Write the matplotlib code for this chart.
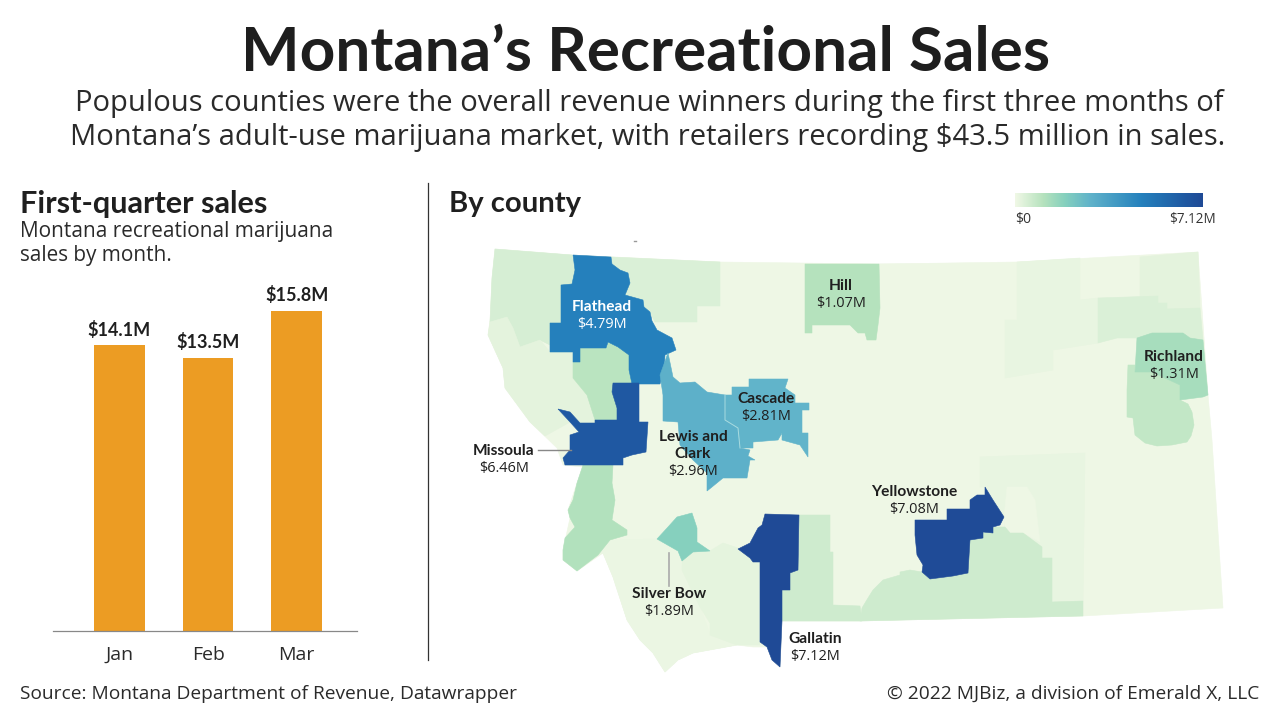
import matplotlib
matplotlib.use("Agg")
import matplotlib.pyplot as plt
from matplotlib.colors import LinearSegmentedColormap, Normalize
from matplotlib.patches import Polygon
import numpy as np

BODY = ['Open Sans', 'DejaVu Sans']
BOLD = ['Lato', 'DejaVu Sans']
plt.rcParams['font.family'] = BODY
W, H = 1280, 720
INK = '#1f1f1f'

# ---- chart data ----
months = ['Jan', 'Feb', 'Mar']
month_sales = [14.1, 13.5, 15.8]
month_labels = ['$14.1M', '$13.5M', '$15.8M']

# county sales, $M (unlabelled counties estimated from their shade)
county_sales = {
    'state': 0.03, 'Blaine': 0.05, 'Valley': 0.14, 'Sheridan': 0.24, 'Roosevelt': 0.4,
    'Custer': 0.14, 'Treasure': 0.03, 'Beaverhead': 0.09, 'Madison': 0.2,
    'Glacier': 0.4, 'Lincoln': 0.5, 'Sanders': 0.24, 'Lake': 1.0, 'Ravalli': 1.12,
    'Park': 0.62, 'BigHorn': 0.62, 'Dawson': 0.85,
    'Flathead': 4.79, 'Missoula': 6.46, 'LewisClark': 2.96, 'Cascade': 2.81,
    'Hill': 1.07, 'Richland': 1.31, 'SilverBow': 1.89, 'Gallatin': 7.12, 'Yellowstone': 7.08,
}

# county outlines (pixels)
county_shapes = {
    'state': [(495,249),(572,255),(720,262),(880,264),(1017,262),(1198,252),(1208,395),(1212,440),
              (1223,608),(1083,616),(860,621),(782,621),(780,667),(772,660),(767,647),(753,647),
              (737,645),(693,653),(678,660),(665,672),(653,653),(640,640),(627,620),(613,577),
              (603,553),(577,571),(563,560),(563,550),(570,518),(568,510),(577,483),(583,467),
              (563,465),(557,448),(530,422),(505,388),(503,368),(488,335),(490,320),(492,278)],
    'Blaine': [(879,264),(950,264),(950,320),(940,335),(940,365),(880,368),(880,340)],
    'Valley': [(1017,262),(1080,258),(1080,300),(1098,298),(1098,343),(1053,350),(1053,370),
               (1005,378),(1005,320),(1017,320)],
    'Sheridan': [(1140,257),(1198,252),(1200,308),(1167,309),(1167,303),(1158,303),(1158,296),(1140,297)],
    'Roosevelt': [(1098,298),(1158,296),(1158,303),(1167,303),(1167,309),(1200,308),(1203,340),
                  (1190,338),(1183,333),(1152,333),(1137,338),(1117,338),(1098,343)],
    'Custer': [(980,457),(1085,453),(1083,601),(1052,602),(1052,558),(1042,558),(1042,547),(1023,533),
               (1010,533),(1005,527),(1004,517),(993,500),(985,487),(980,487)],
    'Treasure': [(1007,487),(1027,487),(1035,500),(1040,542),(1023,533),(1010,533),(1005,527),(1004,517)],
    'Beaverhead': [(598,555),(610,540),(657,539),(678,551),(682,570),(700,607),(710,635),(737,645),
                   (693,653),(678,660),(665,672),(653,653),(640,640),(627,620),(613,577),(603,553)],
    'Madison': [(710,551),(723,543),(750,552),(760,562),(760,645),(737,645),(710,635),(710,623),
                (700,607),(682,570),(682,561),(693,552)],
    'Glacier': [(611,257),(720,262),(720,306),(697,306),(697,322),(655,322),(650,312),(644,307),
                (643,300),(625,295),(630,283),(628,273),(620,270),(612,264)],
    'Lincoln': [(495,249),(572,255),(575,270),(572,284),(561,285),(561,323),(550,323),(550,345),
                (540,340),(520,347),(513,328),(507,317),(490,322),(492,278)],
    'Sanders': [(490,322),(507,317),(513,328),(520,347),(540,340),(550,352),(573,352),(573,378),
                (587,395),(595,420),(595,423),(580,423),(570,412),(558,409),(570,422),(545,436),
                (530,422),(505,388),(503,368),(488,335)],
    'Lake': [(580,348),(606,348),(608,342),(618,347),(629,355),(629,370),(632,384),(613,383),(612,392),
             (617,408),(617,420),(595,420),(587,395),(573,378),(573,362),(580,362)],
    'Ravalli': [(583,465),(613,465),(612,483),(615,500),(612,520),(627,530),(627,535),(610,540),(598,555),
                (577,571),(563,560),(563,550),(565,538),(575,527),(570,518),(568,510),(573,500),(577,483)],
    'Park': [(799,515),(830,515),(830,552),(833,552),(833,605),(860,606),(862,621),(782,621),(782,590),
             (790,590),(790,573),(798,570)],
    'BigHorn': [(970,540),(983,538),(983,532),(993,533),(993,527),(1005,527),(1010,533),(1023,533),
                (1042,547),(1042,558),(1052,558),(1052,602),(1083,601),(1083,616),(860,621),(862,608),
                (868,598),(873,590),(883,580),(900,575),(900,572),(910,570),(922,572),(930,579),
                (953,576),(968,573)],
    'Dawson': [(1128,365),(1135,365),(1135,372),(1152,372),(1180,385),(1180,400),(1188,404),(1192,412),
               (1194,425),(1191,436),(1187,442),(1172,445),(1157,446),(1145,443),(1135,435),(1133,418),
               (1127,417),(1127,390)],
    'Richland': [(1137,338),(1152,333),(1170,333),(1183,333),(1190,338),(1203,340),(1208,395),(1203,397),
                 (1180,400),(1180,385),(1152,372),(1135,372)],
    'Hill': [(805,264),(879,264),(880,308),(878,325),(876,340),(867,340),(865,333),(858,333),(850,325),
             (812,325),(812,333),(805,333)],
    'Flathead': [(573,255),(611,257),(612,264),(620,270),(628,273),(630,283),(625,295),(643,300),(644,307),
                 (650,312),(652,321),(657,330),(672,338),(676,350),(665,355),(664,370),(660,384),(632,384),
                 (629,370),(629,355),(618,347),(608,342),(606,348),(580,348),(580,362),(573,362),(573,352),
                 (550,352),(550,323),(561,323),(561,285),(572,284),(575,270)],
    'Missoula': [(613,383),(639,383),(639,422),(648,422),(646,452),(632,455),(623,458),(623,465),(565,465),(563,458),
                 (570,450),(570,435),(579,432),(570,422),(558,409),(570,412),(580,423),(595,423),(595,420),
                 (617,420),(617,408),(612,392)],
    'LewisClark': [(668,353),(673,377),(680,383),(695,382),(707,392),(725,395),(725,420),(738,428),(740,448),
                   (750,450),(748,456),(755,460),(750,460),(747,478),(723,478),(712,487),(707,491),(707,473),
                   (693,460),(680,445),(678,422),(663,421),(663,395),(660,375)],
    'Cascade': [(749,379),(788,379),(785,388),(795,395),(795,403),(809,403),(809,410),(802,410),(802,433),
                (808,433),(808,457),(800,445),(782,440),(782,433),(778,440),(753,442),(753,448),(740,448),
                (738,428),(725,420),(725,395),(732,395),(732,387),(749,387)],
    'SilverBow': [(657,539),(668,527),(677,517),(692,513),(697,528),(697,542),(710,551),(693,552),(682,561),(678,551)],
    'Gallatin': [(765,514),(799,515),(798,570),(790,573),(790,590),(782,590),(782,621),(780,667),(772,660),
                 (767,647),(760,642),(760,562),(753,562),(750,558),(738,549),(750,543),(758,528),(762,525)],
    'Yellowstone': [(915,520),(947,520),(947,509),(970,509),(970,500),(977,495),(985,495),(985,487),(993,500),
                    (1004,517),(1000,525),(993,527),(993,533),(983,532),(983,538),(970,540),(968,573),(953,576),
                    (930,579),(922,572),(923,565),(917,555),(915,535)],
}

# county labels: name, value text, x, y of the name line
map_labels = [
    ('Flathead', '$4.79M', 602, 307, 'white'), ('Hill', '$1.07M', 841, 286, INK),
    ('Richland', '$1.31M', 1174, 357, INK), ('Cascade', '$2.81M', 766, 399, INK),
    ('Missoula', '$6.46M', 504, 451, INK), ('Yellowstone', '$7.08M', 914, 492, INK),
    ('Silver Bow', '$1.89M', 669, 594, INK), ('Gallatin', '$7.12M', 815, 639, INK),
]

cmap_stops = [(0, '#f0f8e6'), (0.15, '#b5e2bd'), (0.265, '#85d0be'), (0.4, '#60b3ca'),
              (0.67, '#2581bd'), (0.9, '#1f5aa3'), (1, '#1f4a96')]
cmap = LinearSegmentedColormap.from_list('sales', cmap_stops)
norm = Normalize(0, 7.12)

fig = plt.figure(figsize=(W/100, H/100), dpi=100, facecolor='white')
px = 0.72
canvas = fig.add_axes([0, 0, 1, 1])
canvas.set_xlim(0, W); canvas.set_ylim(H, 0); canvas.axis('off')

def T(x, y, s, size, weight='normal', color=INK, ha='left', va='center', **kw):
    fam = BOLD if weight == 'bold' else BODY
    return canvas.text(x, y, s, fontsize=size*px, fontweight=weight, family=fam, color=color, ha=ha, va=va, **kw)

# titles
T(646, 53, 'Montana’s Recreational Sales', 62, 'bold', '#1e1e1e', ha='center')
T(649, 104, 'Populous counties were the overall revenue winners during the first three months of', 29.15, color='#2a2a2a', ha='center')
T(648, 137, 'Montana’s adult-use marijuana market, with retailers recording $43.5 million in sales.', 29.15, color='#2a2a2a', ha='center')

T(20, 204, 'First-quarter sales', 30.7, 'bold')
T(20, 232, 'Montana recreational marijuana', 20.8, color='#2a2a2a')
T(20, 256, 'sales by month.', 20.8, color='#2a2a2a')
T(449, 204, 'By county', 29.2, 'bold')

canvas.plot([428, 428], [183, 660], color='#333333', lw=0.9)

# bars
ax = fig.add_axes([53/W, 1-631/H, 304/W, 351/H])
ax.set_xlim(-0.75, 2.68); ax.set_ylim(0, 351/20.25)
ax.bar(range(3), month_sales, width=0.57, color='#ec9c23')
for i, (v, lab) in enumerate(zip(month_sales, month_labels)):
    ax.annotate(lab, (i, v), xytext=(0, 5), textcoords='offset points', ha='center', va='bottom',
                fontsize=18*px, fontweight='bold', family=BOLD, color=INK)
ax.set_xticks(range(3), months)
ax.tick_params(axis='x', length=0, pad=11, labelsize=19.5*px, labelcolor='#2a2a2a')
ax.set_yticks([])
for s in ['top', 'left', 'right']:
    ax.spines[s].set_visible(False)
ax.spines['bottom'].set_color('#888888'); ax.spines['bottom'].set_linewidth(0.9)
ax.patch.set_alpha(0)

# map
for name, pts in county_shapes.items():
    c = cmap(norm(county_sales[name]))
    canvas.add_patch(Polygon(pts, closed=True, facecolor=c, edgecolor=c, lw=0.4, zorder=2))
canvas.plot([725, 725, 738, 740], [395, 420, 428, 448], color='#a8dbe0', lw=0.7, zorder=3)
canvas.plot([633.5, 636], [240.5, 240.5], color='#999999', lw=1, zorder=3)

# leaders
canvas.plot([538, 571], [450, 450], color='#888888', lw=1, zorder=4)
canvas.plot([669, 669], [553, 586], color='#aaaaaa', lw=1.2, zorder=4)

# labels
for name, val, x, y, col in map_labels:
    T(x, y, name, 15.5, 'bold', col, ha='center', zorder=5)
    T(x, y+17.5, val, 14.5, color=col, ha='center', zorder=5)
T(693, 437, 'Lewis and', 15.5, 'bold', ha='center', zorder=5)
T(693, 454, 'Clark', 15.5, 'bold', ha='center', zorder=5)
T(693, 471, '$2.96M', 14.5, ha='center', zorder=5)

# colour legend
cax = fig.add_axes([1015/W, 1-207/H, 188/W, 14/H])
cax.imshow(np.linspace(0, 1, 256)[None, :], aspect='auto', cmap=cmap)
cax.axis('off')
T(1015, 219, '$0', 14, color='#333333')
T(1216, 220, '$7.12M', 13.5, color='#333333', ha='right')

# footer
T(20, 694, 'Source: Montana Department of Revenue, Datawrapper', 19.2, color='#2a2a2a')
T(1259, 694, '© 2022 MJBiz, a division of Emerald X, LLC', 19.2, color='#2a2a2a', ha='right')

fig.savefig('out.png', dpi=100)
